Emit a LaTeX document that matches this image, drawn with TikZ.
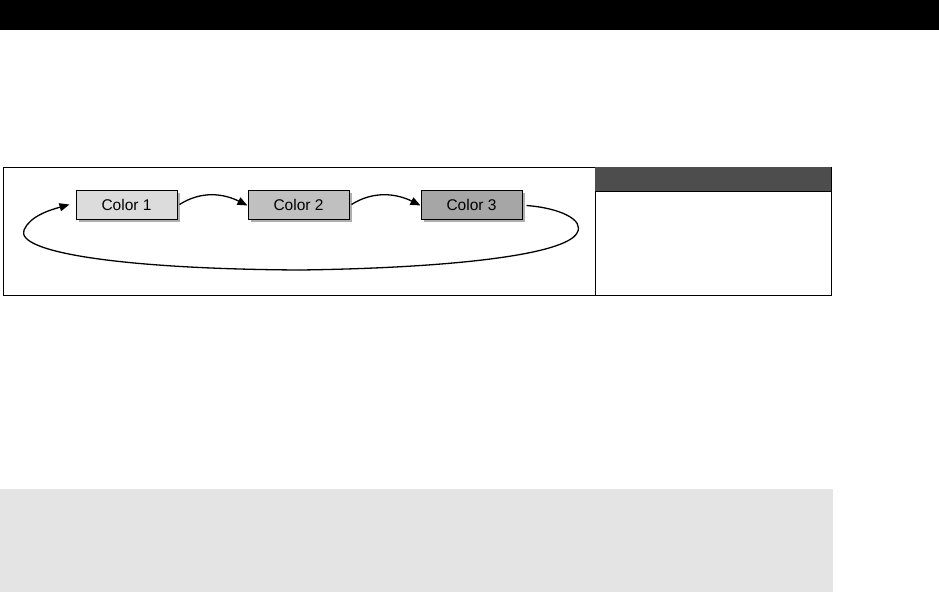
\documentclass[tikz,border=0pt]{standalone}
\usepackage{fontspec}
\setmainfont{Liberation Sans}
\usetikzlibrary{shadows,arrows.meta}
\definecolor{hdr}{HTML}{4D4D4D}
\definecolor{gbox}{HTML}{E4E4E4}
\definecolor{cA}{HTML}{DCDCDC}
\definecolor{cB}{HTML}{C0C0C0}
\definecolor{cC}{HTML}{A6A6A6}
\tikzset{
  colbox/.style={draw=black, line width=1pt, minimum width=101pt, minimum height=29pt, inner sep=0pt,
    font=\fontsize{15.5}{18}\selectfont,
    drop shadow={shadow xshift=3pt, shadow yshift=-3pt, fill=black!45, opacity=0.7}},
  conn/.style={line width=1.3pt, -{Triangle[length=10pt,width=8pt]}}
}
\begin{document}
\begin{tikzpicture}[x=1pt,y=-1pt]
\useasboundingbox (0,0) rectangle (939,592);
\fill[black] (0,0) rectangle (939,30);
\fill[gbox] (0,489) rectangle (833,592);
\draw[line width=1pt] (3,167) rectangle (831,295);
\draw[line width=1pt] (595,167) -- (595,295);
\fill[hdr] (595,167) rectangle (831,191);
\draw[line width=1pt] (595,191) -- (831,191);
\node[colbox, fill=cA] (c1) at (126.5,204.5) {Color 1};
\node[colbox, fill=cB] (c2) at (298.5,204.5) {Color 2};
\node[colbox, fill=cC] (c3) at (471.5,204.5) {Color 3};
\draw[conn] ([xshift=2pt]c1.east) .. controls +(22,-14) and +(-24,-12) .. ([yshift=-1pt]c2.west);
\draw[conn] ([xshift=2pt]c2.east) .. controls +(22,-14) and +(-24,-12) .. ([yshift=-1pt]c3.west);
\coordinate (bot) at (300,270);
\draw[line width=1.3pt] ([xshift=4pt,yshift=-1pt]c3.east) .. controls (560,208) and (585,220) .. (577,233)
  .. controls (565,255) and (450,268) .. (bot);
\draw[conn] (bot) .. controls (120,269) and (15,252) .. (24,230)
  .. controls (30,216) and (50,210) .. ([xshift=-6pt]c1.west);
\end{tikzpicture}
\end{document}
